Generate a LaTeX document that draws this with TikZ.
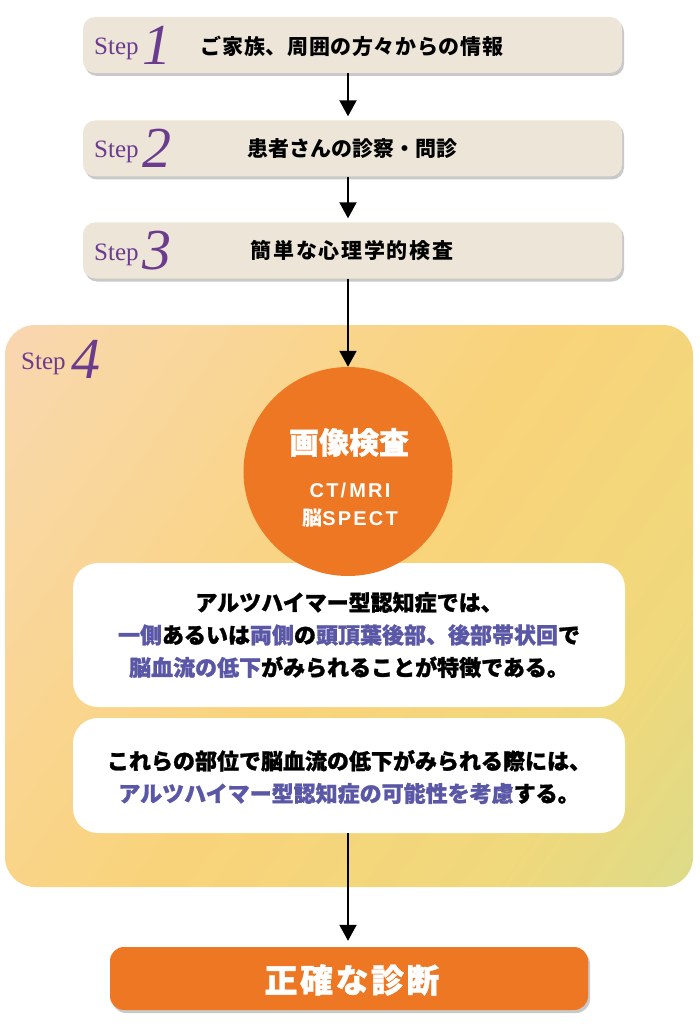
\documentclass[tikz,border=0pt]{standalone}
\usepackage{fontspec}
\newfontfamily\jp{Noto Sans CJK JP}
\newfontfamily\jpheavy{Noto Sans CJK JP}[BoldFeatures={FakeBold=1.2}]
\newfontfamily\lsans{Liberation Sans}[LetterSpace=11]
\newfontfamily\stepfont{Liberation Serif}
\usetikzlibrary{arrows.meta,shadows,calc}
\definecolor{stepfill}{HTML}{EDE5D7}
\definecolor{steppurple}{HTML}{6B3C8E}
\definecolor{hl}{HTML}{5B57A7}
\definecolor{orng}{HTML}{EE7723}
\definecolor{gpink}{HTML}{F8D5CC}
\definecolor{gpeach}{HTML}{F9D7A0}
\definecolor{gyel}{HTML}{F9D37A}
\definecolor{gyel2}{HTML}{F0D87C}
\definecolor{ggreen}{HTML}{C5DF96}
\pgfdeclarehorizontalshading{stepfour}{100bp}{color(0bp)=(gpink); color(25bp)=(gpeach); color(50bp)=(gyel); color(72bp)=(gyel2); color(100bp)=(ggreen)}
\begin{document}
\begin{tikzpicture}[x=1pt,y=-1pt,
  stepbox/.style={rounded corners=12pt, fill=stepfill, minimum width=539pt, minimum height=56pt, inner sep=0pt,
    drop shadow={shadow xshift=2pt, shadow yshift=-3pt, opacity=0.35, fill=black!60}},
  steplbl/.style={inner sep=0pt, anchor=base west, text=steppurple, font=\stepfont\fontsize{25}{25}\selectfont},
  stepnum/.style={inner sep=0pt, anchor=base west, text=steppurple, font=\stepfont\itshape\fontsize{58}{58}\selectfont},
  steptext/.style={inner sep=0pt, font=\jp\bfseries\fontsize{21}{21}\selectfont},
  gbox/.style={rounded corners=30pt, shading=stepfour, shading angle=-35, minimum width=688pt, minimum height=562pt, inner sep=0pt},
  wbox/.style={rounded corners=25pt, fill=white, minimum width=552pt, inner sep=0pt},
  btext/.style={inner sep=0pt, align=center, font=\jpheavy\bfseries\fontsize{22}{32.5}\selectfont},
  ctext/.style={inner sep=0pt, text=white},
  finbox/.style={rounded corners=14pt, fill=orng, minimum width=478pt, minimum height=63pt, inner sep=0pt,
    drop shadow={shadow xshift=2pt, shadow yshift=-3pt, opacity=0.35, fill=black!60}},
  fintext/.style={inner sep=0pt, text=white, font=\jpheavy\bfseries\fontsize{33}{33}\selectfont},
  arr/.style={line width=2pt, -{Triangle[width=17pt,length=16pt]}}
]
\useasboundingbox (0,0) rectangle (699,1024);
\fill[white] (0,0) rectangle (699,1024);

% Step 4 background
\node[gbox] (g4) at (349,606) {};
\node[steplbl] (s4a) at (21,369) {Step};
\node[stepnum] (s4b) at (71,378) {4};

% Step boxes
\node[stepbox] (s1) at (352.5,45) {};
\node[stepbox] (s2) at (352.5,148.5) {};
\node[stepbox] (s3) at (352.5,250.5) {};

\node[steplbl] (s1a) at (94,55) {Step};
\node[stepnum] (s1b) at (142,64.5) {1};
\node[steptext] (s1t) at (352,46) {\addfontfeature{LetterSpace=3}ご家族、周囲の方々からの情報};

\node[steplbl] (s2a) at (94,158) {Step};
\node[stepnum] (s2b) at (142,167.5) {2};
\node[steptext] (s2t) at (352,148.5) {患者さんの診察・問診};

\node[steplbl] (s3a) at (94,260) {Step};
\node[stepnum] (s3b) at (142,269.5) {3};
\node[steptext] (s3t) at (352,250.5) {\addfontfeature{LetterSpace=8}簡単な心理学的検査};

% white boxes
\node[wbox, minimum height=144pt] (w1) at (349,635) {};
\node[wbox, minimum height=115pt] (w2) at (349,775.5) {};
\node[btext] (w1t) at (349,635) {アルツハイマー型認知症では、\\
{\color{hl}一側}あるいは{\color{hl}両側}の{\color{hl}頭頂葉後部、後部帯状回}で\\
{\color{hl}脳血流の低下}がみられることが特徴である。};
\node[btext] (w2t) at (349,777) {これらの部位で脳血流の低下がみられる際には、\\
{\color{hl}アルツハイマー型認知症の可能性を考慮}する。};

% circle
\node[circle, fill=orng, minimum size=209pt, inner sep=0pt] (c) at (348,471.5) {};
\node[ctext, font=\jpheavy\bfseries\fontsize{30}{30}\selectfont] (ct1) at (349,442.5) {画像検査};
\node[ctext, font=\lsans\bfseries\fontsize{20}{20}\selectfont] (ct2) at (350,490) {CT/\hspace{3pt}MRI};
\node[ctext, font=\lsans\bfseries\fontsize{20}{20}\selectfont] (ct3) at (350,518.5) {{\jp\bfseries\fontsize{20}{20}\selectfont 脳}SPECT};

% final
\node[finbox] (fin) at (349,978.5) {};
\node[fintext] (fint) at (352,980) {正\hspace{2.5pt}確\hspace{2.5pt}な\hspace{2.5pt}診\hspace{2.5pt}断};

% arrows
\draw[arr, shorten >=4pt] (s1.south -| c.north) -- (s2.north -| c.north);
\draw[arr, shorten >=4pt] (s2.south -| c.north) -- (s3.north -| c.north);
\draw[arr] (s3.south -| c.north) -- (c.north);
\draw[arr, shorten >=6pt] (w2.south -| c.north) -- (fin.north -| c.north);
\end{tikzpicture}
\end{document}
